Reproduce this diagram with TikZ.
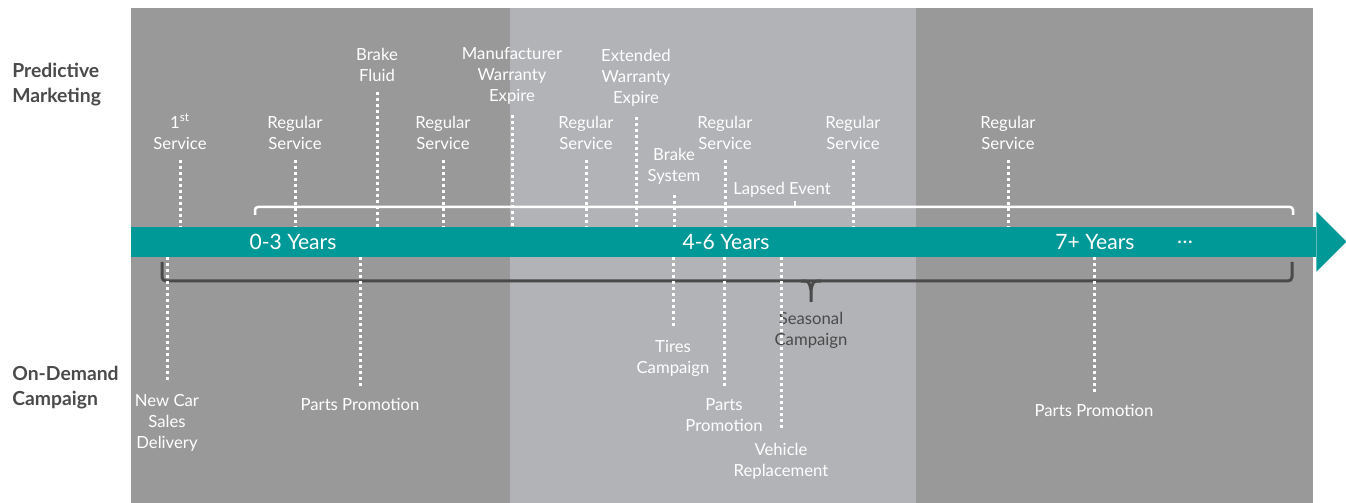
\documentclass[tikz,border=0pt]{standalone}
\usepackage{fontspec}
\setmainfont{Lato}
\definecolor{mlgraydark}{RGB}{153,153,153}
\definecolor{mlgraylight}{RGB}{177,179,182}
\definecolor{mlteal}{RGB}{0,153,152}
\definecolor{mldark}{RGB}{74,74,74}

\begin{document}
\begin{tikzpicture}[x=0.02cm, y=-0.02cm,
  evt/.style={align=center, text=white, inner sep=0.12cm, font=\fontsize{9.5}{11.9}\selectfont},
  dots/.style={white, line width=0.06cm, dash pattern=on 0.06cm off 0.06cm},
  yrs/.style={text=white, font=\fontsize{12}{14}\selectfont},
  cat/.style={align=left, anchor=west, inner sep=0, text=mldark, font=\bfseries\fontsize{11}{14.2}\selectfont}]
  \useasboundingbox (0,0) rectangle (1346,503);

  % Background bands
  \fill[mlgraydark] (131,8) rectangle (510,503);
  \fill[mlgraylight] (510,8) rectangle (916,503);
  \fill[mlgraydark] (916,8) rectangle (1313,503);

  % Row titles
  \node[cat] (pm) at (12,85) {Predictive\\Marketing};
  \node[cat] (odc) at (12,388) {On-Demand\\Campaign};

  % Timeline arrow
  \node[fill=mlteal, minimum width=23.7cm, minimum height=0.6cm, inner sep=0, anchor=west] (bar) at (131,242) {};
  \fill[mlteal] (bar.north east) -- ++(0,-15) -- ++(30,30) -- ++(-30,30) -- ++(0,-15) -- cycle;
  \node[yrs] (yr1) at (293,242) {0-3 Years};
  \node[yrs] (yr2) at (726,242) {4-6 Years};
  \node[yrs] (yr3) at (1095,242) {7+ Years};
  \node[yrs] (more) at (1185,242) {\ldots};

  % Predictive marketing events
  \node[evt, anchor=south] (svc1) at (180,156) {1\textsuperscript{st}\\Service};
  \draw[dots, shorten <=0.08cm] (svc1.south) -- (svc1.south |- bar.north);
  \node[evt, anchor=south] (reg1) at (295,156) {Regular\\Service};
  \draw[dots, shorten <=0.08cm] (reg1.south) -- (reg1.south |- bar.north);
  \node[evt, anchor=south] (fluid) at (377,88) {Brake\\Fluid};
  \draw[dots, shorten <=0.08cm] (fluid.south) -- (fluid.south |- bar.north);
  \node[evt, anchor=south] (reg2) at (443,156) {Regular\\Service};
  \draw[dots, shorten <=0.08cm] (reg2.south) -- (reg2.south |- bar.north);
  \node[evt, anchor=south] (mwarr) at (512,111) {Manufacturer\\Warranty\\Expire};
  \draw[dots, shorten <=0.08cm] (mwarr.south) -- (mwarr.south |- bar.north);
  \node[evt, anchor=south] (reg3) at (586,156) {Regular\\Service};
  \draw[dots, shorten <=0.08cm] (reg3.south) -- (reg3.south |- bar.north);
  \node[evt, anchor=south] (ewarr) at (636,113) {Extended\\Warranty\\Expire};
  \draw[dots, shorten <=0.08cm] (ewarr.south) -- (ewarr.south |- bar.north);
  \node[evt, anchor=south] (bsys) at (674,191) {Brake\\System};
  \draw[dots, shorten <=0.08cm] (bsys.south) -- (bsys.south |- bar.north);
  \node[evt, anchor=south] (reg4) at (725,156) {Regular\\Service};
  \draw[dots, shorten <=0.08cm] (reg4.south) -- (reg4.south |- bar.north);
  \node[evt, anchor=south] (reg5) at (853,156) {Regular\\Service};
  \draw[dots, shorten <=0.08cm] (reg5.south) -- (reg5.south |- bar.north);
  \node[evt, anchor=south] (reg6) at (1008,156) {Regular\\Service};
  \draw[dots, shorten <=0.08cm] (reg6.south) -- (reg6.south |- bar.north);

  % Lapsed event bracket
  \node[evt, anchor=south] (lapsed) at (782,204) {Lapsed Event};
  \draw[white, line width=0.05cm, rounded corners=0.06cm] (255,215) -- (255,207) -- (1293,207) -- (1293,215);
  \draw[white, line width=0.05cm] (795,207) -- (795,201);

  % Seasonal campaign bracket
  \draw[mldark, line width=0.06cm, rounded corners=0.08cm] (162,262) -- (162,281) -- (1292,281) -- (1292,262);
  \draw[mldark, line width=0.06cm] (801,281) .. controls (809,281) .. (811,290) -- (811,302);
  \draw[mldark, line width=0.06cm] (821,281) .. controls (813,281) .. (811,290);
  \node[evt, anchor=north, text=mldark] (seasonal) at (811,306) {Seasonal\\Campaign};

  % On-demand campaign events
  \node[evt, anchor=north] (newcar) at (167,388) {New Car\\Sales\\Delivery};
  \draw[dots, shorten >=0.12cm] (newcar.north |- bar.south) -- (newcar.north);
  \node[evt, anchor=north] (parts1) at (360,392) {Parts Promotion};
  \draw[dots, shorten >=0.12cm] (parts1.north |- bar.south) -- (parts1.north);
  \node[evt, anchor=north] (tires) at (673,334) {Tires\\Campaign};
  \draw[dots, shorten >=0.12cm] (tires.north |- bar.south) -- (tires.north);
  \node[evt, anchor=north] (parts2) at (724,392) {Parts\\Promotion};
  \draw[dots, shorten >=0.12cm] (parts2.north |- bar.south) -- (parts2.north);
  \node[evt, anchor=north] (vehicle) at (781,437) {Vehicle\\Replacement};
  \draw[dots, shorten >=0.12cm] (vehicle.north |- bar.south) -- (vehicle.north);
  \node[evt, anchor=north] (parts3) at (1094,398) {Parts Promotion};
  \draw[dots, shorten >=0.12cm] (parts3.north |- bar.south) -- (parts3.north);
\end{tikzpicture}
\end{document}
